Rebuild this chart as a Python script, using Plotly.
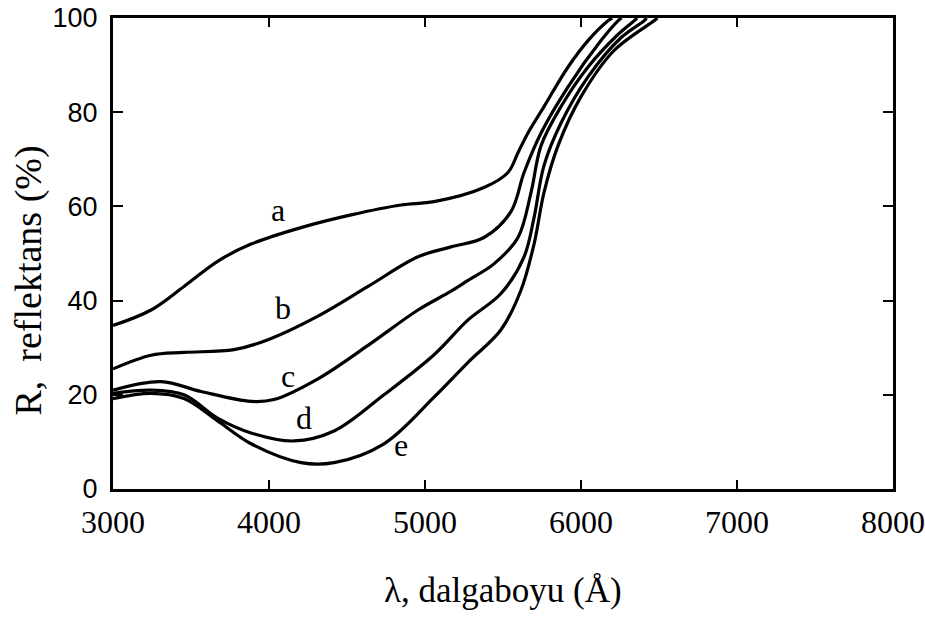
import plotly.graph_objects as go

# Wavelength (Å) and reflectance (%) samples for each curve
wl_a = [3000, 3244, 3455, 3673, 3885, 4205, 4526, 4846, 5058, 5378, 5532, 5596, 5660, 5763, 5917, 6045, 6173, 6200]
r_a = [34.7, 38.0, 43.0, 48.4, 52.0, 55.5, 58.2, 60.3, 61.0, 64.0, 67.2, 71.4, 75.6, 81.2, 89.6, 95.2, 99.4, 100]

wl_b = [3000, 3244, 3455, 3776, 3994, 4314, 4635, 4955, 5167, 5378, 5551, 5635, 5744, 5917, 6128, 6237, 6260]
r_b = [25.5, 28.4, 29.0, 29.6, 31.7, 36.7, 43.0, 49.3, 51.4, 53.4, 58.9, 67.2, 75.6, 85.4, 95.2, 99.4, 100]

wl_c = [3000, 3308, 3564, 3885, 4032, 4314, 4635, 4955, 5167, 5276, 5442, 5596, 5680, 5744, 5872, 6045, 6237, 6340, 6360]
r_c = [21.0, 22.8, 20.7, 18.6, 19.0, 23.4, 30.5, 38.0, 42.0, 44.3, 47.8, 53.4, 63.0, 72.9, 81.2, 89.6, 96.5, 99.4, 100]

wl_d = [3000, 3244, 3455, 3673, 3885, 4160, 4417, 4737, 5058, 5276, 5487, 5635, 5699, 5763, 5872, 6045, 6256, 6404, 6420]
r_d = [20.3, 21.0, 20.0, 15.0, 11.9, 10.2, 12.3, 20.0, 28.5, 35.9, 41.5, 49.3, 57.6, 68.7, 77.7, 87.5, 95.8, 99.4, 100]

wl_e = [3000, 3244, 3455, 3673, 3885, 4205, 4417, 4737, 5058, 5276, 5487, 5615, 5699, 5763, 5853, 6000, 6212, 6468, 6490]
r_e = [19.2, 20.3, 19.2, 14.4, 9.6, 5.6, 5.6, 9.6, 19.5, 26.9, 33.8, 42.2, 52.0, 63.0, 72.9, 83.3, 93.1, 99.4, 100]

curve_names = ["a", "b", "c", "d", "e"]
curve_x = [wl_a, wl_b, wl_c, wl_d, wl_e]
curve_y = [r_a, r_b, r_c, r_d, r_e]

# Letter labels placed beside each curve
label_x = [4058, 4090, 4122, 4224, 4846]
label_y = [58.7, 37.8, 23.4, 14.4, 8.8]

x_ticks = [3000, 4000, 5000, 6000, 7000, 8000]
y_ticks = [0, 20, 40, 60, 80, 100]

x_title = "λ, dalgaboyu (Å)"
y_title = "R,  reflektans (%)"

fig = go.Figure()
for name, xs, ys in zip(curve_names, curve_x, curve_y):
    fig.add_trace(go.Scatter(
        x=xs, y=ys, mode="lines", name=name,
        line=dict(color="black", width=3.2, shape="spline", smoothing=1.0),
        showlegend=False, hoverinfo="skip",
    ))

fig.add_trace(go.Scatter(
    x=label_x, y=label_y, mode="text", text=curve_names,
    textfont=dict(family="Liberation Serif", size=32, color="black"),
    showlegend=False, hoverinfo="skip",
))

fig.update_layout(
    width=925, height=617,
    margin=dict(l=113, r=32, t=18, b=128, autoexpand=False),
    paper_bgcolor="white", plot_bgcolor="white",
    xaxis=dict(
        range=[3000, 8000], tickvals=x_ticks, ticktext=[str(v) for v in x_ticks],
        showgrid=False, zeroline=False, automargin=False,
        showline=True, linecolor="black", linewidth=3, mirror="allticks",
        ticks="inside", ticklen=9, tickwidth=2, tickcolor="black",
        tickfont=dict(family="Liberation Serif", size=32, color="black"),
        ticklabelstandoff=3, ticklabeloverflow="allow",
    ),
    yaxis=dict(
        range=[0, 100], tickvals=y_ticks,
        showgrid=False, zeroline=False, automargin=False,
        showline=True, linecolor="black", linewidth=3, mirror="allticks",
        ticks="inside", ticklen=10, tickwidth=2, tickcolor="black",
        tickfont=dict(family="Liberation Sans", size=27, color="black"),
        ticklabelstandoff=7, ticklabeloverflow="allow",
    ),
    annotations=[
        dict(text=x_title, xref="paper", yref="paper", x=0.5, y=0,
             xanchor="center", yanchor="middle", yshift=-101, xshift=0,
             showarrow=False,
             font=dict(family="Liberation Serif", size=35, color="black")),
        dict(text=y_title, xref="paper", yref="paper", x=0, y=0.5,
             xanchor="center", yanchor="middle", xshift=-85, yshift=-27,
             textangle=-90, showarrow=False,
             font=dict(family="Liberation Serif", size=38, color="black")),
    ],
)

fig.write_html("out.html")
